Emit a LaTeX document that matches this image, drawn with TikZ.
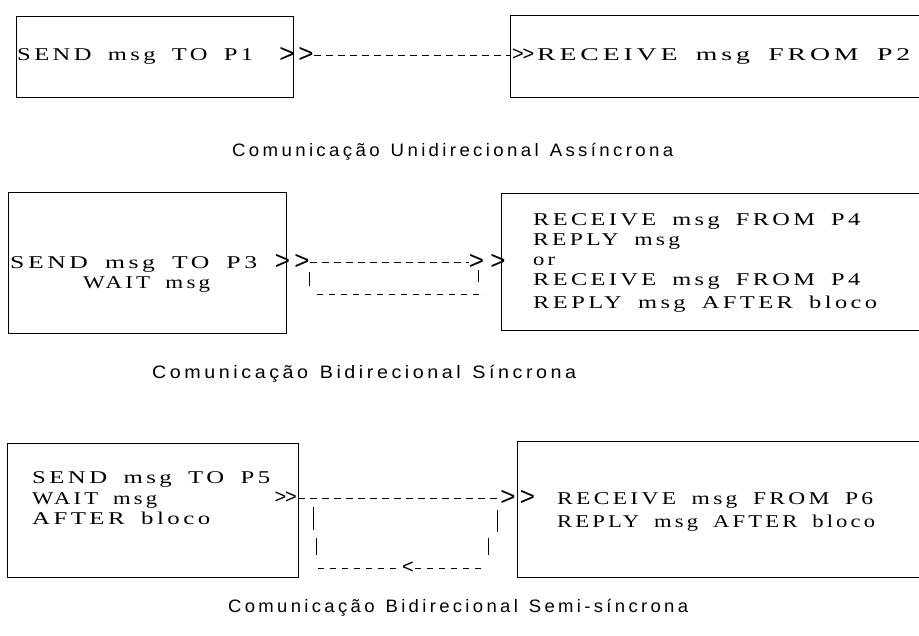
\documentclass[tikz,border=0pt]{standalone}
\usepackage{fontspec}
\usepackage{graphicx}
\setmainfont{Liberation Serif}[LetterSpace=14, WordSpace=1.7]
\newfontfamily\capfont{Liberation Sans}[LetterSpace=18, WordSpace=1.3]
\newfontfamily\chevfont{Liberation Sans}
\newcommand{\fitw}[2]{\resizebox{#1}{\height}{#2}}
\tikzset{
  procbox/.style={draw, line width=0.7pt, inner sep=0pt},
  txt/.style={inner sep=0pt, anchor=base west, font=\fontsize{18}{20}\selectfont},
  captxt/.style={inner sep=0pt, anchor=base west, font=\capfont\fontsize{18}{20}\selectfont},
  chev/.style={inner sep=0pt, font=\chevfont\fontsize{26}{28}\selectfont},
  smallchev/.style={inner sep=0pt, font=\chevfont\fontsize{20}{22}\selectfont},
  msgline/.style={line width=0.7pt, dash pattern=on 7pt off 5pt},
  retline/.style={line width=0.7pt, dash pattern=on 6pt off 6pt},
  tick/.style={line width=0.8pt}
}
\begin{document}
\begin{tikzpicture}[x=1pt,y=-1pt]
\useasboundingbox (0,0) rectangle (919,636);
\clip (0,0) rectangle (919,636);

% ---------- Row 1 ----------
\node[procbox, minimum width=277pt, minimum height=81pt] (b1l) at (154.5,56.5) {};
\node[procbox, minimum width=425pt, minimum height=82pt] (b1r) at (722.5,56) {};
\node[txt] (t1a) at (17,61) {\fitw{236pt}{SEND msg TO P1}};
\node[chev] (c1a) at (287,55) {>};
\node[chev] (c1b) at (306,55) {>};
\draw[msgline] (c1b.east) -- (c1b.east -| b1r.west);
\node[smallchev] (c1c) at (518,55) {>};
\node[smallchev] (c1d) at (528.5,55) {>};
\node[txt] (t1b) at (537,61) {\fitw{373pt}{RECEIVE msg FROM P2}};
\node[captxt] (cap1) at (232,157) {\fitw{441pt}{Comunicação Unidirecional Assíncrona}};

% ---------- Row 2 ----------
\node[procbox, minimum width=278pt, minimum height=141pt] (b2l) at (147,262.5) {};
\node[procbox, minimum width=434pt, minimum height=137pt] (b2r) at (718,261.5) {};
\node[txt] (t2a) at (10,269) {\fitw{247pt}{SEND msg TO P3}};
\node[txt] (t2b) at (83,289) {\fitw{127pt}{WAIT msg}};
\node[chev] (c2a) at (282.5,262) {>};
\node[chev] (c2b) at (302,262) {>};
\node[chev] (c2c) at (476.5,262) {>};
\node[chev] (c2d) at (498,262) {>};
\draw[msgline] (c2b.east) -- (c2c.west);
\coordinate (r2a) at (309,272);
\coordinate (r2b) at (309,286);
\coordinate (r2c) at (317,294);
\coordinate (r2d) at (485,294);
\coordinate (r2e) at (478,282);
\draw[tick] (r2a) -- (r2b);
\draw[retline] (r2c) -- (r2d);
\draw[tick] (c2c.south -| r2e) -- (r2e);
\node[txt] (t2c) at (533,226) {\fitw{327pt}{RECEIVE msg FROM P4}};
\node[txt] (t2d) at (533,246) {\fitw{147pt}{REPLY msg}};
\node[txt] (t2e) at (533,266) {\fitw{22pt}{or}};
\node[txt] (t2f) at (533,286) {\fitw{327pt}{RECEIVE msg FROM P4}};
\node[txt] (t2g) at (533,309) {\fitw{344pt}{REPLY msg AFTER bloco}};
\node[captxt] (cap2) at (152,379) {\fitw{424pt}{Comunicação Bidirecional Síncrona}};

% ---------- Row 3 ----------
\node[procbox, minimum width=291pt, minimum height=134pt] (b3l) at (152.5,510) {};
\node[procbox, minimum width=418pt, minimum height=136pt] (b3r) at (726,509) {};
\node[txt] (t3a) at (32,483) {\fitw{238pt}{SEND msg TO P5}};
\node[txt] (t3b) at (32,504) {\fitw{125pt}{WAIT msg}};
\node[txt] (t3c) at (32,524) {\fitw{178pt}{AFTER bloco}};
\node[smallchev] (c3a) at (280.5,498) {>};
\node[smallchev] (c3b) at (291,498) {>};
\node[chev] (c3c) at (508,498) {>};
\node[chev] (c3d) at (527.5,498) {>};
\draw[msgline] (c3b -| b3l.east) -- (c3c.west);
\node[txt] (t3d) at (557,504) {\fitw{316pt}{RECEIVE msg FROM P6}};
\node[txt] (t3e) at (557,527) {\fitw{318pt}{REPLY msg AFTER bloco}};
\coordinate (r3a) at (313,507);
\coordinate (r3b) at (313,530);
\coordinate (r3c) at (316,538);
\coordinate (r3d) at (316,555);
\coordinate (r3e) at (497,510);
\coordinate (r3f) at (497,532);
\coordinate (r3g) at (488,538);
\coordinate (r3h) at (488,555);
\coordinate (r3i) at (318,568);
\coordinate (r3j) at (483,568);
\draw[tick] (r3a) -- (r3b);
\draw[tick] (r3c) -- (r3d);
\draw[tick] (r3e) -- (r3f);
\draw[tick] (r3g) -- (r3h);
\node[smallchev, fill=white, inner sep=1pt] (c3e) at (408,568) {<};
\draw[retline] (r3i) -- (c3e.west);
\draw[retline] (c3e.east) -- (r3j);
\node[captxt] (cap3) at (228,612) {\fitw{460pt}{Comunicação Bidirecional Semi-síncrona}};
\end{tikzpicture}
\end{document}
